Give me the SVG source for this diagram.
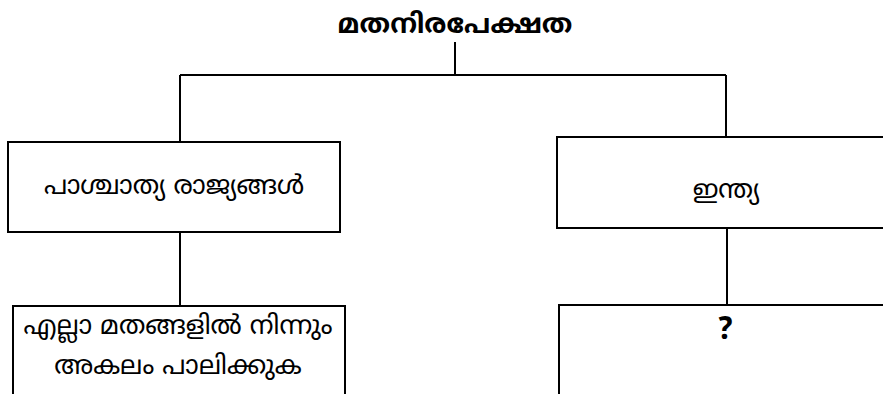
<svg xmlns="http://www.w3.org/2000/svg" width="883" height="394" viewBox="0 0 883 394">
<style>
.box{fill:#fff;stroke:#000;stroke-width:2}
.ln{fill:none;stroke:#000;stroke-width:2}
.t{font-family:"Noto Sans Malayalam","Noto Sans","DejaVu Sans",sans-serif;font-size:26px;fill:#000;text-anchor:middle}
.b{font-weight:bold}
</style>
<rect width="883" height="394" fill="#fff"/>
<g id="connectors">
<path class="ln" d="M455 42V75M180 75H726M180 75V142M726 75V137M180 232V306M727 228V305"/>
</g>
<g id="root"><text class="t b" x="455" y="33" style="font-size:27px">മതനിരപേക്ഷത</text></g>
<g id="west"><rect class="box" x="8" y="142" width="332" height="90"/><text class="t" x="174" y="194">പാശ്ചാത്യ രാജ്യങ്ങൾ</text></g>
<g id="india"><rect class="box" x="557" y="137" width="340" height="91"/><text class="t" x="726" y="198">ഇന്ത്യ</text></g>
<g id="west-desc"><rect class="box" x="13" y="306" width="332" height="100"/><text class="t" x="178" y="334">എല്ലാ മതങ്ങളിൽ നിന്നും</text><text class="t" x="178" y="374">അകലം പാലിക്കുക</text></g>
<g id="india-desc"><rect class="box" x="559" y="305" width="340" height="100"/><text class="t b" x="725" y="339" style="font-size:32px">?</text></g>
</svg>
